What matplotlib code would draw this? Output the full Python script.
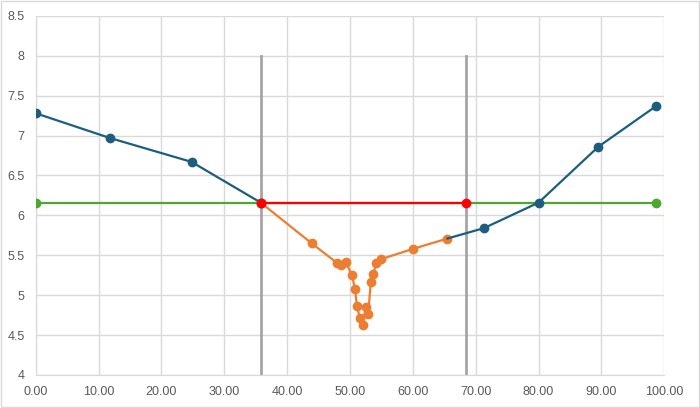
import matplotlib.pyplot as plt
from matplotlib.patches import Rectangle
from matplotlib.ticker import FormatStrFormatter, FuncFormatter

# data
left_x = [0.0, 11.8, 24.8, 35.8]
left_y = [7.28, 6.97, 6.67, 6.16]
right_x = [65.5, 71.3, 80.0, 89.5, 98.7]
right_y = [5.71, 5.84, 6.16, 6.86, 7.37]
dip_x = [35.8, 43.9, 48.0, 48.6, 49.3, 50.3, 50.8, 51.1, 51.6, 52.0,
         52.5, 52.9, 53.3, 53.7, 54.2, 54.9, 60.0, 65.5]
dip_y = [6.16, 5.65, 5.40, 5.38, 5.42, 5.25, 5.08, 4.86, 4.71, 4.62,
         4.85, 4.76, 5.16, 5.27, 5.40, 5.45, 5.58, 5.71]
level_x = [0.0, 98.7]
level_y = [6.16, 6.16]
cut_x = [35.8, 68.5]
cut_y = [6.16, 6.16]
bounds = [35.8, 68.5]

plt.rcParams['font.family'] = ['Liberation Sans', 'DejaVu Sans']
fig = plt.figure(figsize=(7, 4.08), dpi=100)
ax = fig.add_axes([0.051, 0.081, 0.898, 0.880])

blue = '#1b5e80'
orange = '#ed7d31'
green = '#4ea72e'

for b in bounds:
    ax.plot([b, b], [4, 8], color='#a6a6a6', lw=2, zorder=2)

ax.plot(level_x, level_y, color=green, lw=1.6, marker='o', ms=6, zorder=3)
ax.plot(dip_x, dip_y, color=orange, lw=1.6, marker='o', ms=6, zorder=4)
ax.plot(left_x, left_y, color=blue, lw=1.6, marker='o', ms=6, zorder=4)
ax.plot(right_x, right_y, color=blue, lw=1.6, marker='o', ms=6,
        markevery=list(range(1, len(right_x))), zorder=4)
ax.plot(cut_x, cut_y, color='#ff0000', lw=1.6, marker='o', ms=6, zorder=5)

ax.set_xlim(0, 100)
ax.set_ylim(4, 8.5)
ax.set_xticks(range(0, 101, 10))
ax.set_yticks([4 + 0.5 * i for i in range(10)])
ax.xaxis.set_major_formatter(FormatStrFormatter('%.2f'))
ax.yaxis.set_major_formatter(FuncFormatter(lambda v, p: f'{v:g}'))
ax.grid(True, color='#d9d9d9', lw=1)
ax.set_axisbelow(True)
ax.tick_params(length=0, colors='#595959', labelsize=9, pad=8)
for s in ax.spines.values():
    s.set_visible(False)
ax.spines['left'].set_visible(True)
ax.spines['bottom'].set_visible(True)
ax.spines['left'].set_color('#d9d9d9')
ax.spines['bottom'].set_color('#d9d9d9')
for lbl in ax.get_xticklabels() + ax.get_yticklabels():
    lbl.set_color('#595959')

fig.patches.append(Rectangle((0.001, 0.002), 0.997, 0.995, transform=fig.transFigure,
                             fill=False, edgecolor='#d9d9d9', lw=1))

fig.savefig('out.png', dpi=100)
